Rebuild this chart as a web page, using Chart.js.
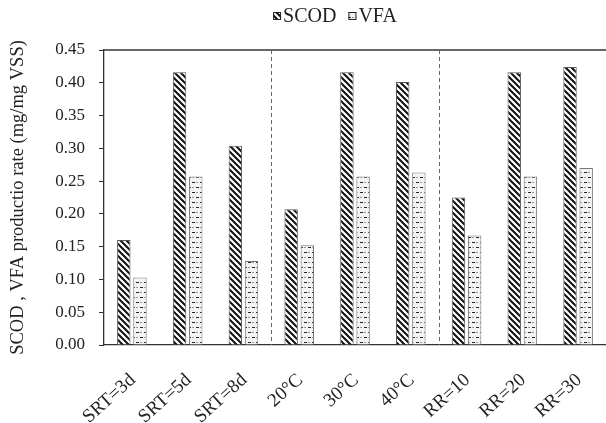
<!DOCTYPE html>
<html>
<head>
<meta charset="utf-8">
<script src="https://cdn.jsdelivr.net/npm/chart.js@4.4.1/dist/chart.umd.min.js"></script>
<style>
  html, body { margin: 0; padding: 0; background: #fff; }
  #wrap { width: 606px; height: 423px; }
</style>
</head>
<body>
<div id="wrap"><canvas id="chart" width="606" height="423"></canvas></div>
<script>
// data
const categories = ['SRT=3d', 'SRT=5d', 'SRT=8d', '20°C', '30°C', '40°C', 'RR=10', 'RR=20', 'RR=30'];
const scodValues = [0.160, 0.416, 0.304, 0.207, 0.416, 0.401, 0.225, 0.416, 0.424];
const vfaValues = [0.103, 0.257, 0.128, 0.152, 0.257, 0.263, 0.167, 0.257, 0.270];
const yTicks = [0, 0.05, 0.10, 0.15, 0.20, 0.25, 0.30, 0.35, 0.40, 0.45];
const groupBreaks = [2.5, 5.5]; // dashed separators between the groups

const serif = "'Liberation Serif', 'Times New Roman', serif";

// diagonal hatch "\\\\" for SCOD
function hatchPattern() {
  const c = document.createElement('canvas');
  const s = 6;
  c.width = s; c.height = s;
  const g = c.getContext('2d');
  g.fillStyle = '#fff';
  g.fillRect(0, 0, s, s);
  g.strokeStyle = '#111';
  g.lineWidth = 2;
  g.beginPath();
  g.moveTo(-1, -1); g.lineTo(s + 1, s + 1);
  g.moveTo(-1, s - 1); g.lineTo(1, s + 1);
  g.moveTo(s - 1, -1); g.lineTo(s + 1, 1);
  g.stroke();
  return g.createPattern(c, 'repeat');
}

// short staggered dashes for VFA
function dashPattern() {
  const c = document.createElement('canvas');
  c.width = 8; c.height = 10;
  const g = c.getContext('2d');
  g.fillStyle = '#f3f3f3';
  g.fillRect(0, 0, 8, 10);
  g.fillStyle = '#222';
  g.fillRect(0, 2, 3, 1);
  g.fillRect(4, 7, 3, 1);
  g.fillStyle = '#999';
  g.fillRect(4, 2, 2, 1);
  g.fillRect(0, 7, 2, 1);
  return g.createPattern(c, 'repeat');
}

const scodFill = hatchPattern();
const vfaFill = dashPattern();

const framePlugin = {
  id: 'frame',
  afterDatasetsDraw(chart) {
    const { ctx, chartArea, scales } = chart;
    ctx.save();
    // top border
    ctx.strokeStyle = '#333';
    ctx.lineWidth = 1.3;
    ctx.beginPath();
    ctx.moveTo(chartArea.left, chartArea.top);
    ctx.lineTo(chartArea.right, chartArea.top);
    ctx.stroke();
    // group separators
    ctx.strokeStyle = '#666';
    ctx.lineWidth = 1;
    ctx.setLineDash([4, 3]);
    groupBreaks.forEach(v => {
      const x = Math.round(scales.x.getPixelForValue(v)) + 0.5;
      ctx.beginPath();
      ctx.moveTo(x, chartArea.top);
      ctx.lineTo(x, chartArea.bottom);
      ctx.stroke();
    });
    ctx.restore();
  },
  afterDraw(chart) {
    // legend
    const { ctx } = chart;
    const sets = chart.data.datasets;
    ctx.save();
    ctx.font = '20px ' + serif;
    ctx.textBaseline = 'middle';
    const box = 8, gap = 2, spacing = 12;
    let total = 0;
    sets.forEach((d, i) => {
      total += box + gap + ctx.measureText(d.label).width + (i < sets.length - 1 ? spacing : 0);
    });
    let x = 335 - total / 2;
    const y = 16;
    sets.forEach(d => {
      ctx.fillStyle = d.backgroundColor;
      ctx.fillRect(x, y - box / 2, box, box);
      ctx.strokeStyle = '#222';
      ctx.lineWidth = 1;
      ctx.strokeRect(x + 0.5, y - box / 2 + 0.5, box - 1, box - 1);
      x += box + gap;
      ctx.fillStyle = '#222';
      ctx.fillText(d.label, x, y + 1);
      x += ctx.measureText(d.label).width + spacing;
    });
    ctx.restore();
  }
};

new Chart(document.getElementById('chart'), {
  type: 'bar',
  data: {
    labels: categories,
    datasets: [
      { label: 'SCOD', data: scodValues, backgroundColor: scodFill, borderColor: '#555', borderWidth: 1 },
      { label: 'VFA', data: vfaValues, backgroundColor: vfaFill, borderColor: '#777', borderWidth: 1 }
    ]
  },
  options: {
    responsive: false,
    animation: false,
    devicePixelRatio: 1,
    layout: { padding: { top: 50, right: 0, left: 0, bottom: 0 } },
    datasets: { bar: { categoryPercentage: 0.58, barPercentage: 0.83 } },
    plugins: { legend: { display: false }, tooltip: { enabled: false } },
    scales: {
      x: {
        grid: { display: false },
        border: { display: true, color: '#333', width: 1.3 },
        ticks: {
          color: '#222',
          font: { family: serif, size: 19 },
          maxRotation: 42,
          minRotation: 42,
          padding: 16,
          labelOffset: 1,
          autoSkip: false
        },
        afterFit(s) {
          s.height = 78;
          s.paddingLeft = 0;
          s.paddingRight = 0;
        }
      },
      y: {
        min: 0,
        max: 0.45,
        afterBuildTicks(s) { s.ticks = yTicks.map(v => ({ value: v })); },
        grid: { display: true, drawOnChartArea: false, drawTicks: true, tickLength: 5, color: '#333', tickColor: '#333' },
        border: { display: true, color: '#333', width: 1.3 },
        ticks: {
          color: '#222',
          font: { family: serif, size: 17 },
          padding: 14,
          callback: v => v.toFixed(2)
        },
        title: {
          display: true,
          text: 'SCOD , VFA productio rate (mg/mg VSS)',
          color: '#222',
          font: { family: serif, size: 18.5 },
          padding: { top: 7, bottom: 0 }
        },
        afterFit(s) { s.width = 104; }
      }
    }
  },
  plugins: [framePlugin]
});
</script>
</body>
</html>
